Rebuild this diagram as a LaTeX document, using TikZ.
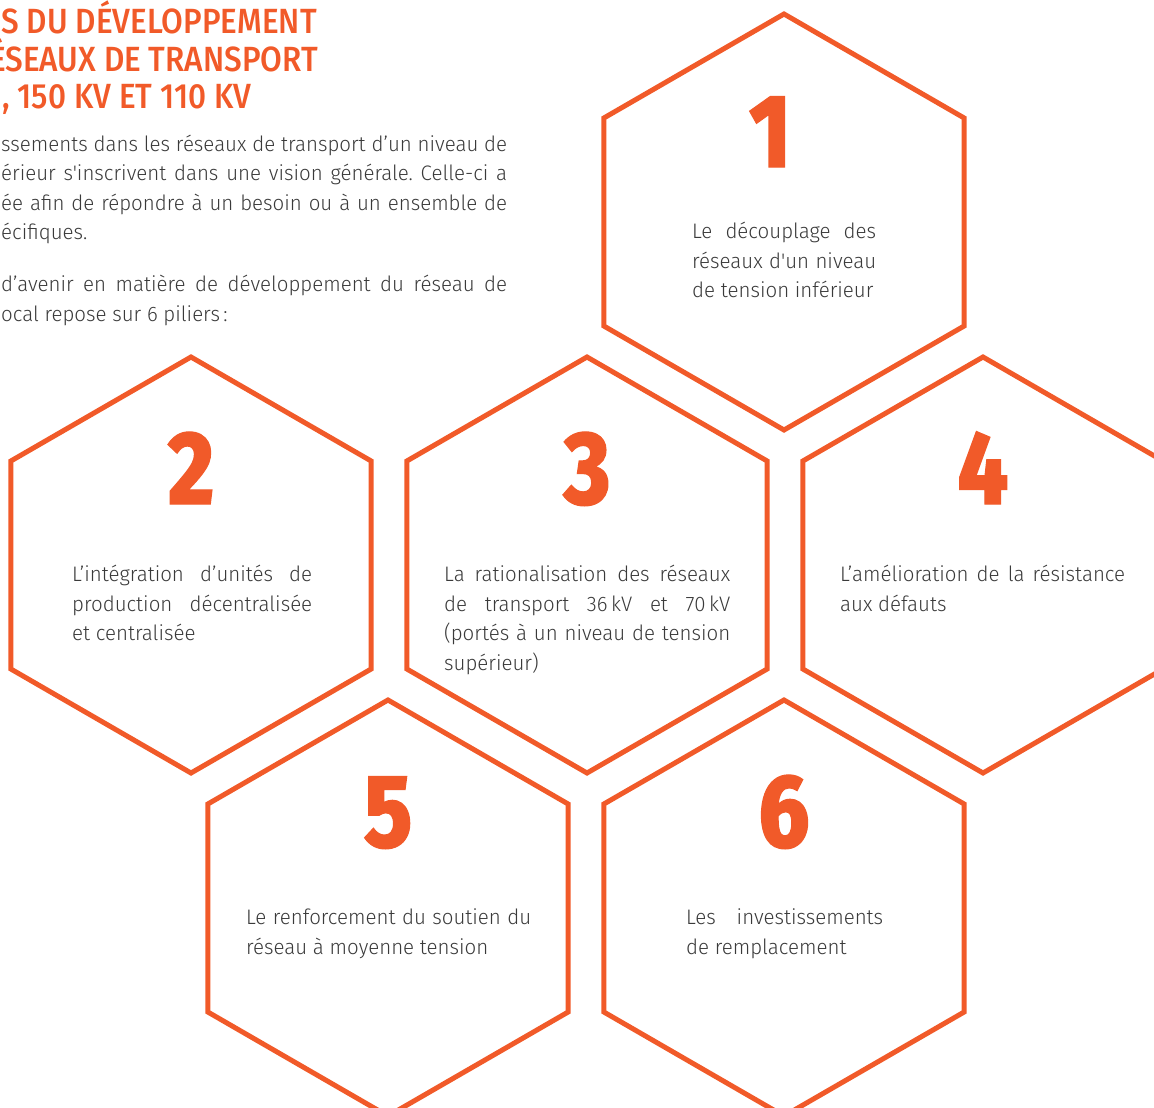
\documentclass[tikz,border=0pt]{standalone}
\usepackage{fontspec}
\usetikzlibrary{shapes.geometric}
\definecolor{hexorange}{RGB}{241,90,41}
\definecolor{textgrey}{RGB}{58,58,58}
\newfontfamily\bodyfont{Fira Sans Light}[FakeStretch=0.975]
\newfontfamily\titlefont{Fira Sans Medium}[FakeStretch=0.9]
\newfontfamily\digitfont{Fira Sans ExtraBold}[FakeStretch=0.85, FakeBold=1.2]
\newcommand{\jline}[2]{\makebox[#1][s]{#2}}
\frenchspacing

\begin{document}
\begin{tikzpicture}[x=1pt, y=-1pt,
    hexa/.style={regular polygon, regular polygon sides=6, shape border rotate=30, minimum size=416pt, inner sep=0pt, draw=hexorange, line width=5pt},
    digit/.style={anchor=base, inner sep=0pt, text=hexorange, font=\digitfont\fontsize{104}{104}\selectfont},
    pillartext/.style={anchor=base west, inner sep=0pt, align=left, text=textgrey, font=\bodyfont\fontsize{21}{29.5}\selectfont},
    headline/.style={anchor=base west, inner sep=0pt, text=hexorange, font=\titlefont\fontsize{35}{37}\selectfont}]

        \useasboundingbox (0, 0) rectangle (1154, 1108);

        % title, cut at the left edge
        \node[headline] (head1) at (1, 34)   {S DU DÉVELOPPEMENT};
        \node[headline] (head2) at (-11, 71) {ÉSEAUX DE TRANSPORT};
        \node[headline] (head3) at (2, 108)  {, 150 KV ET 110 KV};

        % base anchor = last line
        \node[pillartext] (intro) at (1, 321) {\jline{506pt}{ssements dans les réseaux de transport d’un niveau de}\\
            \jline{506pt}{érieur s'inscrivent dans une vision générale. Celle-ci a}\\
            \jline{506pt}{ée afin de répondre à un besoin ou à un ensemble de}\\
            écifiques.\\[22.5pt]
            \jline{506pt}{d’avenir en matière de développement du réseau de}\\
            ocal repose sur 6 piliers\,:};

        \node[hexa] (h1) at (784, 222) {};
        \node[hexa] (h2) at (191, 565) {};
        \node[hexa] (h3) at (587, 565) {};
        \node[hexa] (h4) at (983, 565) {};
        \node[hexa] (h5) at (388, 908) {};
        \node[hexa] (h6) at (784, 908) {};

        \node[digit] (n1) at (770, 222-55) {1};
        \node[digit] (n2) at (191, 565-61) {2};
        \node[digit] (n3) at (587, 565-61) {3};
        \node[digit] (n4) at (983, 565-61) {4};
        \node[digit] (n5) at (388, 908-61) {5};
        \node[digit] (n6) at (784, 908-61) {6};

        \node[pillartext] (t1) at (784-92, 222+16.5+2*29.5) {\jline{184pt}{Le découplage des}\\
            \jline{184pt}{réseaux d'un niveau}\\
            de tension inférieur};
        \node[pillartext] (t2) at (191-119, 565+16.5+2*29.5) {\jline{240pt}{L’intégration d’unités de}\\
            \jline{240pt}{production décentralisée}\\
            et centralisée};
        \node[pillartext] (t3) at (587-143, 565+16.5+3*29.5) {\jline{286pt}{La rationalisation des réseaux}\\
            \jline{286pt}{de transport 36\,kV et 70\,kV}\\
            \jline{286pt}{(portés à un niveau de tension}\\
            supérieur)};
        \node[pillartext] (t4) at (983-143, 565+16.5+29.5) {\jline{285pt}{L’amélioration de la résistance}\\
            aux défauts};
        \node[pillartext] (t5) at (388-142, 908+16.5+29.5) {\jline{285pt}{Le renforcement du soutien du}\\
            réseau à moyenne tension};
        \node[pillartext] (t6) at (784-98, 908+16.5+29.5) {\jline{197pt}{Les investissements}\\
            de remplacement};

    \end{tikzpicture}
\end{document}
